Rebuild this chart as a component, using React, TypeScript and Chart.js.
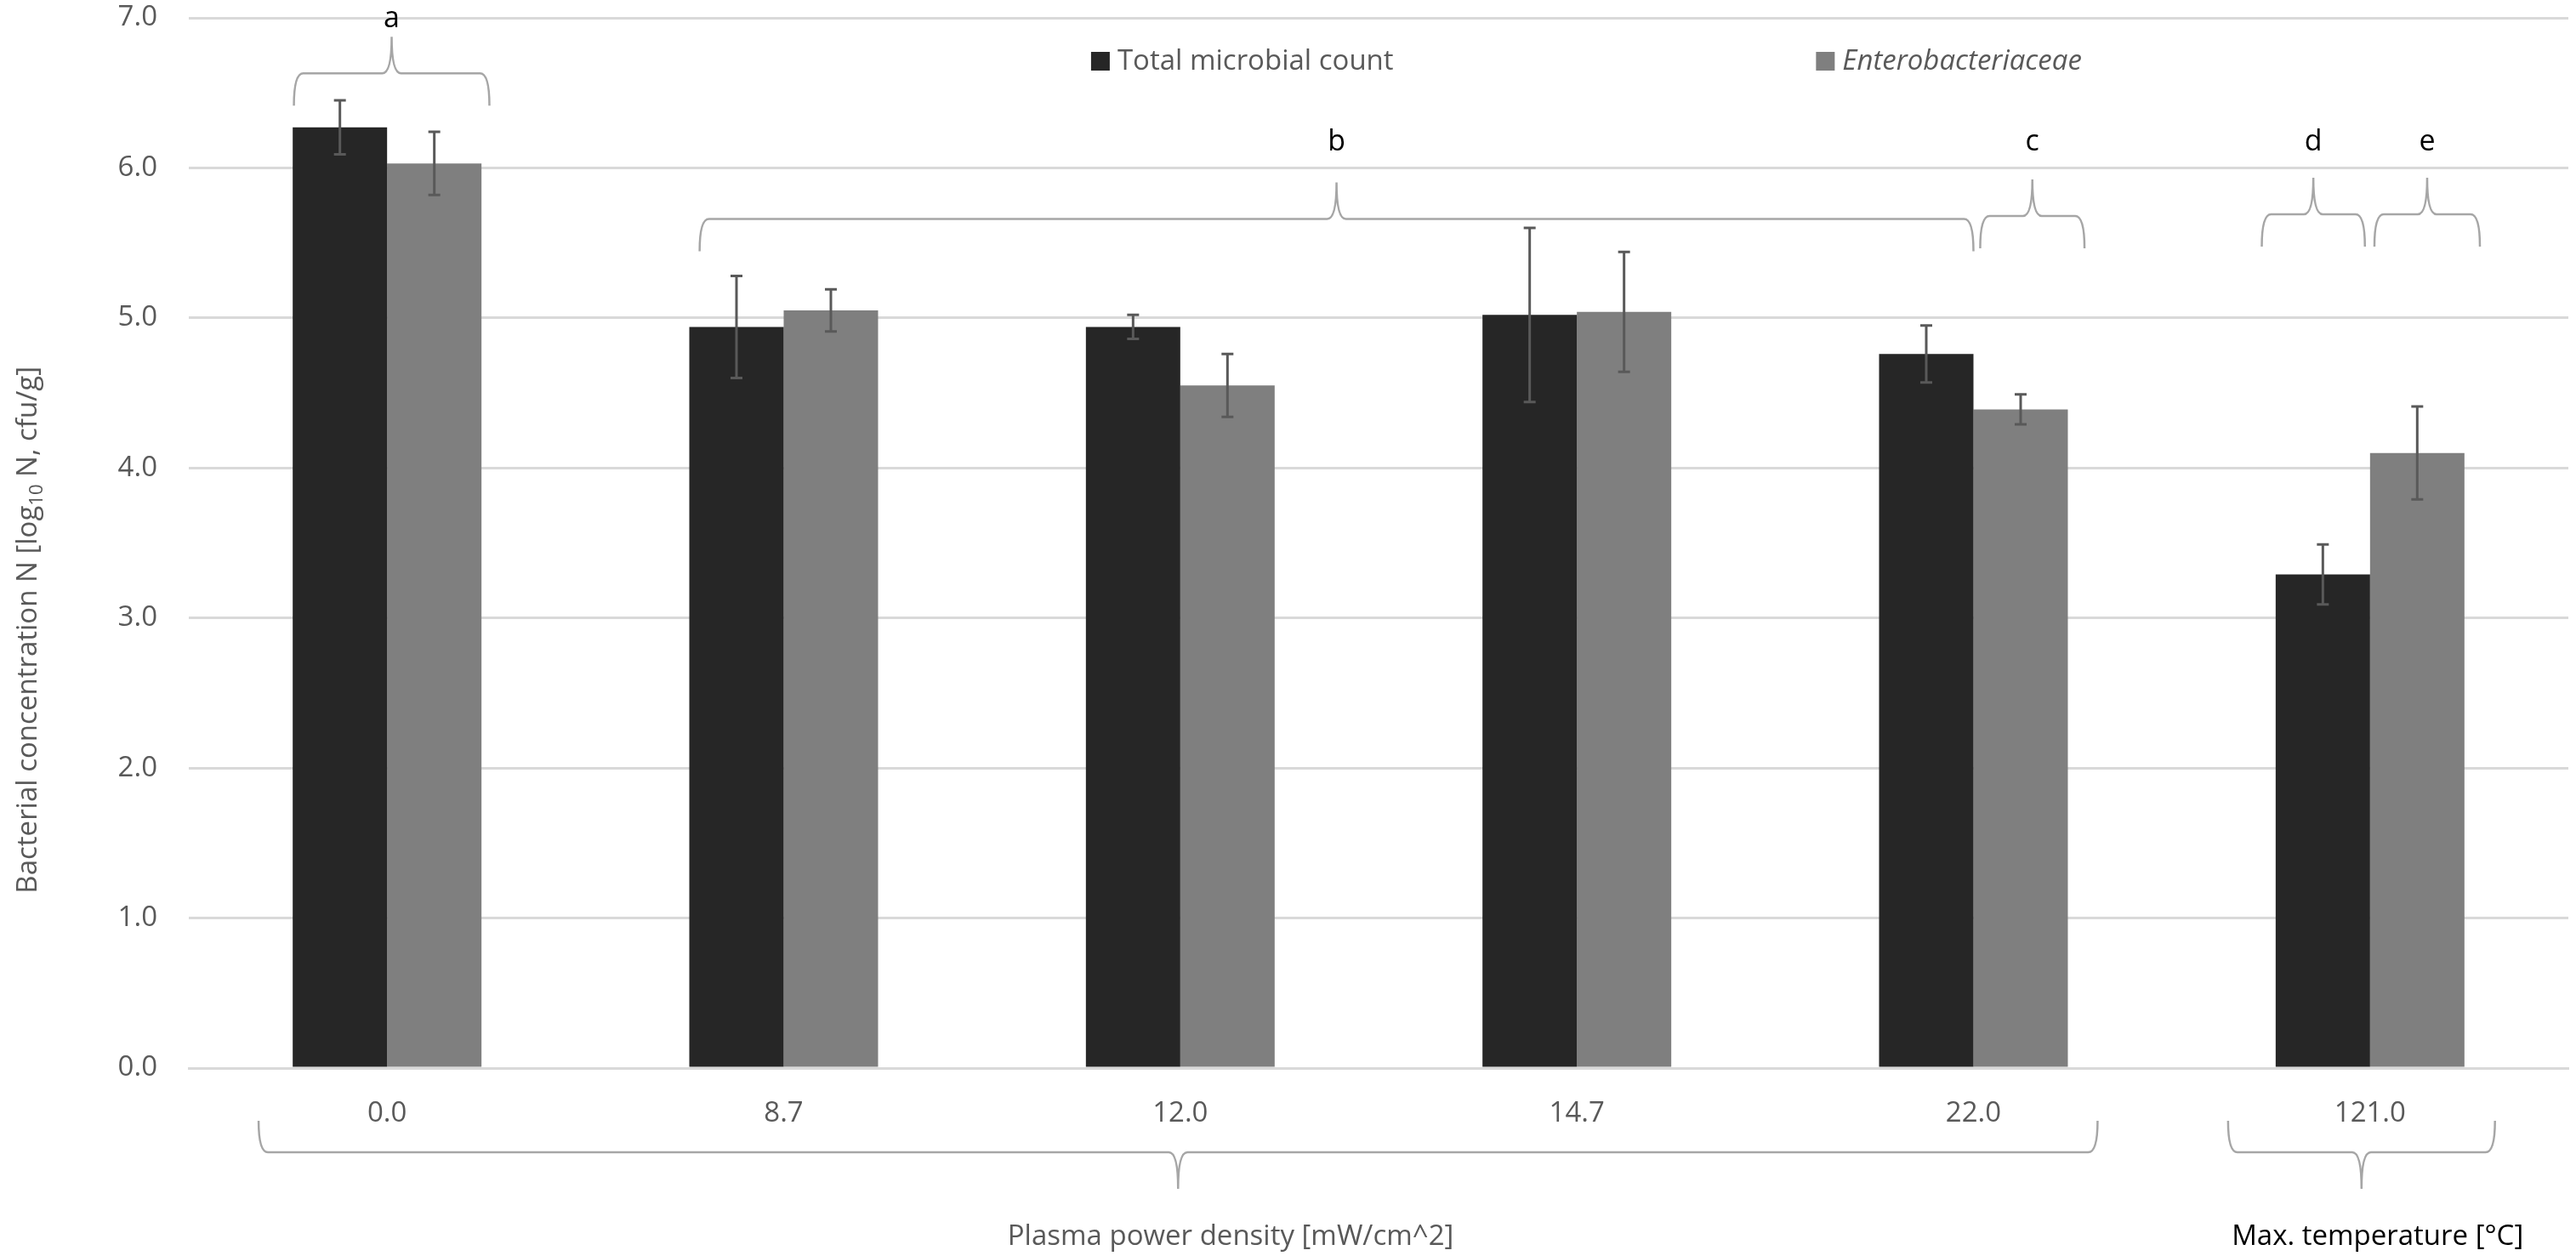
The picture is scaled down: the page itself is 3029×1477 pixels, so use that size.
import { useEffect, useRef } from 'react';
import { Chart, registerables } from 'chart.js';

Chart.register(...registerables);

const categories = ['0.0', '8.7', '12.0', '14.7', '22.0', '121.0'];
const totalMicrobialCount = [6.27, 4.94, 4.94, 5.02, 4.76, 3.29];
const totalMicrobialSd = [0.18, 0.34, 0.08, 0.58, 0.19, 0.2];
const enterobacteriaceae = [6.03, 5.05, 4.55, 5.04, 4.39, 4.1];
const enterobacteriaceaeSd = [0.21, 0.14, 0.21, 0.4, 0.1, 0.31];
const seriesLabels = ['Total microbial count', 'Enterobacteriaceae'];
const yTicks = [0, 1, 2, 3, 4, 5, 6, 7];

// significance groups: span in category units, brace level and letter level in axis units
const topBraces = [
  { letter: 'a', from: -0.235, to: 0.258, level: 6.63, text: 6.99 },
  { letter: 'b', from: 0.788, to: 4.0, level: 5.66, text: 6.17 },
  { letter: 'c', from: 4.017, to: 4.28, level: 5.68, text: 6.17 },
  { letter: 'd', from: 4.727, to: 4.987, level: 5.69, text: 6.17 },
  { letter: 'e', from: 5.011, to: 5.277, level: 5.69, text: 6.17 },
];
const bottomGroups = [
  { title: 'Plasma power density [mW/cm^2]', from: -0.324, to: 4.313, titleAt: 2.127, color: '#595959' },
  { title: 'Max. temperature [°C]', from: 4.642, to: 5.315, titleAt: 5.019, color: '#000000' },
];

const FONT = "'Open Sans', 'Noto Sans', sans-serif";
const TEXT = '#595959';
const BRACE = '#a6a6a6';

function brace(ctx: CanvasRenderingContext2D, x1: number, x2: number, y: number, d: number, t: number, s: number) {
  // s = -1: tip points up, ends hang down; s = 1: tip points down
  const xc = (x1 + x2) / 2;
  const r = 11;
  ctx.beginPath();
  ctx.moveTo(x1, y - s * d);
  ctx.quadraticCurveTo(x1, y, x1 + r, y);
  ctx.lineTo(xc - r, y);
  ctx.quadraticCurveTo(xc, y, xc, y + s * t);
  ctx.quadraticCurveTo(xc, y, xc + r, y);
  ctx.lineTo(x2 - r, y);
  ctx.quadraticCurveTo(x2, y, x2, y - s * d);
  ctx.stroke();
}

const extrasPlugin = {
  id: 'extras',
  afterDatasetsDraw(chart: any) {
    const ctx = chart.ctx as CanvasRenderingContext2D;
    const yScale = chart.scales.y;
    const sds = [totalMicrobialSd, enterobacteriaceaeSd];
    const vals = [totalMicrobialCount, enterobacteriaceae];
    ctx.save();
    ctx.strokeStyle = '#595959';
    ctx.lineWidth = 3;
    for (let i = 0; i < 2; i++) {
      const meta = chart.getDatasetMeta(i);
      meta.data.forEach((bar: any, j: number) => {
        const top = yScale.getPixelForValue(vals[i][j] + sds[i][j]);
        const bot = yScale.getPixelForValue(vals[i][j] - sds[i][j]);
        ctx.beginPath();
        ctx.moveTo(bar.x, top);
        ctx.lineTo(bar.x, bot);
        ctx.moveTo(bar.x - 7, top);
        ctx.lineTo(bar.x + 7, top);
        ctx.moveTo(bar.x - 7, bot);
        ctx.lineTo(bar.x + 7, bot);
        ctx.stroke();
      });
    }
    ctx.restore();
  },
  afterDraw(chart: any) {
    const ctx = chart.ctx as CanvasRenderingContext2D;
    const x = chart.scales.x;
    const y = chart.scales.y;
    const area = chart.chartArea;
    const x0 = x.getPixelForValue(0);
    const cw = x.getPixelForValue(1) - x0;
    const cx = (p: number) => x0 + p * cw;

    ctx.save();
    // top braces with letters
    ctx.strokeStyle = BRACE;
    ctx.lineWidth = 2.5;
    ctx.fillStyle = '#000000';
    ctx.font = `34px ${FONT}`;
    ctx.textAlign = 'center';
    ctx.textBaseline = 'middle';
    topBraces.forEach((b) => {
      brace(ctx, cx(b.from), cx(b.to), y.getPixelForValue(b.level), 38, 43, -1);
      ctx.fillText(b.letter, (cx(b.from) + cx(b.to)) / 2, y.getPixelForValue(b.text));
    });

    // bottom braces with group titles
    bottomGroups.forEach((g) => {
      brace(ctx, cx(g.from), cx(g.to), area.bottom + 99, 37, 43, 1);
      ctx.fillStyle = g.color;
      ctx.font = `33px ${FONT}`;
      ctx.textBaseline = 'alphabetic';
      ctx.fillText(g.title, cx(g.titleAt), area.bottom + 208);
    });

    // legend
    const legendAt = [1.775, 3.603];
    const legendColors = ['#262626', '#7f7f7f'];
    ctx.textAlign = 'left';
    ctx.textBaseline = 'middle';
    legendAt.forEach((p, i) => {
      const lx = cx(p);
      ctx.fillStyle = legendColors[i];
      ctx.fillRect(lx, area.top + 40, 22, 22);
      ctx.fillStyle = TEXT;
      ctx.font = `${i === 1 ? 'italic ' : ''}33px ${FONT}`;
      ctx.fillText(seriesLabels[i], lx + 31, area.top + 52);
    });

    // y axis title with subscript
    const midY = y.getPixelForValue(2.92);
    ctx.translate(43, midY);
    ctx.rotate(-Math.PI / 2);
    ctx.textBaseline = 'alphabetic';
    ctx.fillStyle = TEXT;
    const p1 = 'Bacterial concentration N [log';
    const p2 = '10';
    const p3 = ' N, cfu/g]';
    ctx.font = `33px ${FONT}`;
    const w1 = ctx.measureText(p1).width;
    const w3 = ctx.measureText(p3).width;
    ctx.font = `22px ${FONT}`;
    const w2 = ctx.measureText(p2).width;
    let sx = -(w1 + w2 + w3) / 2;
    ctx.font = `33px ${FONT}`;
    ctx.fillText(p1, sx, 0);
    sx += w1;
    ctx.font = `22px ${FONT}`;
    ctx.fillText(p2, sx, 7);
    sx += w2;
    ctx.font = `33px ${FONT}`;
    ctx.fillText(p3, sx, 0);
    ctx.restore();
  },
};

export default function App() {
  const canvasRef = useRef<HTMLCanvasElement>(null);
  const chartRef = useRef<Chart | null>(null);

  useEffect(() => {
    document.body.style.margin = '0';
    document.body.style.overflow = 'hidden';
    if (!canvasRef.current) return;
    if (chartRef.current) chartRef.current.destroy();

    chartRef.current = new Chart(canvasRef.current, {
      type: 'bar',
      data: {
        labels: categories,
        datasets: [
          {
            label: seriesLabels[0],
            data: totalMicrobialCount,
            backgroundColor: '#262626',
            categoryPercentage: 0.476,
            barPercentage: 1,
          },
          {
            label: seriesLabels[1],
            data: enterobacteriaceae,
            backgroundColor: '#7f7f7f',
            categoryPercentage: 0.476,
            barPercentage: 1,
          },
        ],
      },
      options: {
        animation: false,
        responsive: false,
        devicePixelRatio: 1,
        layout: { padding: { left: 0, right: 9, top: 21, bottom: 0 } },
        plugins: { legend: { display: false }, tooltip: { enabled: false } },
        scales: {
          x: {
            grid: { display: false, drawTicks: false },
            border: { display: true, color: '#d9d9d9', width: 3 },
            ticks: { color: TEXT, font: { family: FONT, size: 33 }, padding: 34 },
            afterFit: (s: any) => {
              s.height = 221;
              s.paddingLeft = 0;
              s.paddingRight = 0;
            },
          },
          y: {
            min: 0,
            max: 7,
            afterBuildTicks: (s: any) => {
              s.ticks = yTicks.map((v) => ({ value: v }));
            },
            ticks: {
              color: TEXT,
              font: { family: FONT, size: 33 },
              padding: 37,
              callback: (v: any) => Number(v).toFixed(1),
            },
            grid: { color: '#d9d9d9', lineWidth: 3, drawTicks: false },
            border: { display: false },
            afterFit: (s: any) => {
              s.width = 222;
              s.paddingTop = 0;
              s.paddingBottom = 0;
            },
          },
        },
      },
      plugins: [extrasPlugin],
    });

    return () => {
      if (chartRef.current) {
        chartRef.current.destroy();
        chartRef.current = null;
      }
    };
  }, []);

  return (
    <div style={{ width: 3029, height: 1477 }}>
      <canvas ref={canvasRef} width={3029} height={1477} style={{ display: 'block' }} />
    </div>
  );
}
